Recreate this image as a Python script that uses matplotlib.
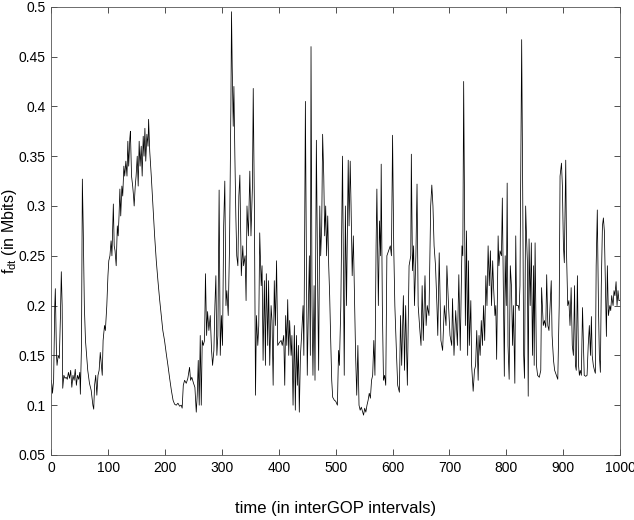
import numpy as np
import matplotlib
matplotlib.use("Agg")
import matplotlib.pyplot as plt

# time positions (interGOP intervals) and f_dt values (Mbits)
t = [0, 1, 2, 4, 6, 7, 9, 10, 12, 14, 16, 17.5, 19, 20, 22, 24, 26, 28, 30, 32,
     34, 36, 38, 40, 42, 44, 46, 48, 50, 51, 53, 54.5, 56, 58, 60, 62, 64, 67, 70, 73,
     74.5, 76, 78, 80, 82, 84, 86, 88, 89.5, 91, 93.5, 95, 97.5, 99.5, 101, 103, 105, 106.5, 109, 110.5,
     112, 114, 116, 117.5, 119, 120.5, 122, 124, 125.5, 127.5, 129, 131, 133, 134.5, 136, 138, 139, 141, 143, 144.5,
     145.6, 147.5, 149, 151, 152.7, 154.4, 156, 158, 159.7, 161.5, 163, 164.5, 166, 168, 170, 171, 173, 175.7, 178.7, 181.6,
     184.5, 187.4, 190.4, 193.3, 196, 199, 202, 205, 208, 211, 214, 216.7, 219.6, 222.6, 225.5, 228.4, 230, 232, 234.3, 237.2,
     240, 243, 244.8, 247, 250, 252.4, 254.8, 256.5, 258.3, 260, 261.8, 263.6, 265.3, 267, 269.4, 271, 273, 274.7, 277, 279.4,
     281.7, 283.5, 285.8, 287.6, 289.3, 291, 292.8, 295, 297, 299, 301, 303, 305, 307, 308.6, 311, 313.3, 315.7, 316.8, 318,
     319.8, 321, 322.7, 324.4, 326, 328, 329.7, 331.5, 334, 336.6, 338, 340.7, 342.4, 344, 346.5, 349, 351, 353.6, 355, 357,
     359, 360.6, 363, 364.7, 366.4, 369, 370.5, 372.3, 374.6, 376.4, 378, 380.5, 382, 384, 386.4, 388, 390, 392, 394, 396,
     398, 401, 404, 406, 408.6, 410.4, 412, 414, 415.6, 417.4, 419, 421.5, 423, 425, 427.3, 429, 431, 432.6, 434.4, 436,
     438, 440, 442.6, 444, 445.5, 446.7, 448.4, 450, 452, 453.7, 455.4, 456.6, 458.4, 460, 462, 463.6, 466, 467, 468.3, 470,
     472, 473.6, 475.4, 477, 479, 480.6, 482.4, 484, 486, 487.7, 489.4, 491, 493, 494.7, 497.6, 500, 503, 505, 506.5, 509,
     512, 513.5, 515, 517, 519, 522, 523.5, 525.5, 527, 529, 531, 533, 535, 537, 539, 541, 543, 545, 547, 549,
     551, 553, 555, 557, 559, 561, 563, 565, 567, 569, 571, 572.4, 575, 577, 579, 580, 582, 584, 586, 588,
     590, 593, 596, 598, 600, 602, 604, 607, 609, 612, 614, 616, 619, 621, 623, 626, 629, 632, 633, 635,
     637, 638.5, 641, 643, 645, 648, 650, 652, 654, 657, 659, 661, 664, 667, 669, 671, 673, 675.5, 678, 679.5,
     682, 685, 688, 691, 694, 695.5, 698.4, 701, 704, 705.4, 708, 711, 714, 716.5, 719, 722, 723.5, 725, 726.5, 728,
     730, 732, 733.5, 735, 737.6, 739, 741.7, 744, 746, 748, 750.5, 752, 754, 756, 758, 760, 762, 764, 766, 768,
     770, 772, 774, 776, 777.5, 780, 781.5, 783, 785.6, 787, 789, 791.5, 793, 795, 796.5, 798, 800, 801.5, 803, 805,
     807, 809, 811, 812.5, 815, 816.6, 818, 821, 822.5, 824, 826, 827, 829, 830.5, 832, 834, 835.5, 837, 838.5, 840,
     842, 844, 846, 848, 849, 850.6, 853, 855, 858, 860.6, 862, 865, 867, 869.4, 871, 873, 875, 877, 879, 880.5,
     883, 885, 888, 890.5, 893, 894.5, 897, 898.6, 900.4, 902, 904.5, 906, 908, 910, 912, 914, 916, 918, 920, 921.5,
     923, 925, 927, 928.5, 930, 932, 934, 937, 939.6, 942, 944, 946, 948, 949.6, 951, 953, 955, 956.6, 958, 960,
     962, 963.6, 965.4, 967, 969, 970.7, 972.4, 974, 976, 977.7, 979.5, 982, 983.6, 985.3, 987.7, 989.4, 991, 993, 994.7, 996.4,
     998, 1000]

f_dt = [0.125, 0.12, 0.112, 0.125, 0.2, 0.217, 0.15, 0.14, 0.15, 0.147, 0.19, 0.234, 0.2, 0.117, 0.13, 0.127, 0.128, 0.126, 0.133, 0.127,
        0.135, 0.118, 0.13, 0.125, 0.136, 0.12, 0.13, 0.126, 0.133, 0.111, 0.16, 0.327, 0.28, 0.2, 0.165, 0.15, 0.135, 0.122, 0.115, 0.1,
        0.096, 0.12, 0.13, 0.11, 0.13, 0.135, 0.153, 0.14, 0.13, 0.165, 0.18, 0.175, 0.2, 0.23, 0.245, 0.25, 0.265, 0.25, 0.302, 0.26,
        0.255, 0.24, 0.28, 0.27, 0.29, 0.317, 0.29, 0.32, 0.31, 0.34, 0.33, 0.345, 0.33, 0.365, 0.34, 0.368, 0.375, 0.33, 0.32, 0.31,
        0.3, 0.32, 0.33, 0.35, 0.32, 0.365, 0.34, 0.36, 0.33, 0.37, 0.35, 0.378, 0.345, 0.372, 0.36, 0.387, 0.355, 0.33, 0.3, 0.27,
        0.245, 0.225, 0.206, 0.19, 0.175, 0.165, 0.152, 0.14, 0.127, 0.115, 0.105, 0.101, 0.1, 0.102, 0.099, 0.1, 0.097, 0.12, 0.125, 0.122,
        0.127, 0.138, 0.125, 0.128, 0.122, 0.118, 0.093, 0.11, 0.145, 0.1, 0.17, 0.1, 0.165, 0.16, 0.165, 0.232, 0.17, 0.194, 0.175, 0.19,
        0.155, 0.14, 0.155, 0.2, 0.23, 0.15, 0.17, 0.316, 0.15, 0.19, 0.16, 0.28, 0.325, 0.2, 0.215, 0.19, 0.26, 0.4, 0.495, 0.44,
        0.38, 0.42, 0.35, 0.29, 0.25, 0.24, 0.31, 0.331, 0.23, 0.26, 0.24, 0.25, 0.205, 0.3, 0.27, 0.335, 0.27, 0.32, 0.418, 0.3,
        0.11, 0.19, 0.16, 0.18, 0.273, 0.22, 0.24, 0.145, 0.225, 0.14, 0.232, 0.16, 0.225, 0.14, 0.2, 0.185, 0.12, 0.225, 0.18, 0.245,
        0.16, 0.163, 0.165, 0.16, 0.17, 0.12, 0.19, 0.16, 0.206, 0.15, 0.185, 0.15, 0.17, 0.1, 0.18, 0.095, 0.17, 0.12, 0.16, 0.093,
        0.15, 0.17, 0.2, 0.15, 0.28, 0.405, 0.25, 0.13, 0.2, 0.25, 0.15, 0.46, 0.2, 0.13, 0.22, 0.125, 0.366, 0.3, 0.22, 0.135,
        0.3, 0.25, 0.28, 0.372, 0.33, 0.27, 0.3, 0.25, 0.29, 0.24, 0.21, 0.17, 0.125, 0.108, 0.105, 0.104, 0.1, 0.155, 0.14, 0.2,
        0.35, 0.24, 0.13, 0.3, 0.2, 0.346, 0.28, 0.345, 0.3, 0.23, 0.27, 0.21, 0.15, 0.11, 0.16, 0.1, 0.095, 0.098, 0.094, 0.09,
        0.097, 0.093, 0.1, 0.105, 0.112, 0.107, 0.125, 0.13, 0.165, 0.13, 0.26, 0.317, 0.2, 0.285, 0.25, 0.342, 0.2, 0.125, 0.13, 0.12,
        0.25, 0.255, 0.26, 0.25, 0.371, 0.26, 0.2, 0.15, 0.12, 0.113, 0.19, 0.14, 0.21, 0.135, 0.2, 0.12, 0.24, 0.25, 0.352, 0.235,
        0.26, 0.2, 0.25, 0.322, 0.2, 0.175, 0.16, 0.22, 0.165, 0.23, 0.18, 0.2, 0.19, 0.3, 0.321, 0.3, 0.26, 0.24, 0.2, 0.17,
        0.253, 0.165, 0.155, 0.2, 0.18, 0.24, 0.2, 0.17, 0.16, 0.207, 0.15, 0.195, 0.16, 0.231, 0.155, 0.26, 0.25, 0.425, 0.3, 0.18,
        0.275, 0.15, 0.245, 0.16, 0.205, 0.14, 0.114, 0.135, 0.14, 0.175, 0.125, 0.17, 0.15, 0.185, 0.16, 0.2, 0.165, 0.23, 0.2, 0.26,
        0.22, 0.255, 0.2, 0.245, 0.22, 0.19, 0.2, 0.146, 0.27, 0.24, 0.255, 0.25, 0.308, 0.2, 0.129, 0.25, 0.2, 0.323, 0.16, 0.126,
        0.24, 0.22, 0.16, 0.2, 0.122, 0.27, 0.2, 0.2, 0.195, 0.22, 0.385, 0.467, 0.3, 0.15, 0.127, 0.3, 0.27, 0.245, 0.109, 0.267,
        0.2, 0.263, 0.15, 0.24, 0.14, 0.263, 0.14, 0.13, 0.128, 0.135, 0.218, 0.18, 0.185, 0.178, 0.231, 0.18, 0.175, 0.2, 0.225, 0.17,
        0.145, 0.135, 0.13, 0.126, 0.2, 0.33, 0.343, 0.32, 0.26, 0.243, 0.346, 0.25, 0.2, 0.205, 0.18, 0.218, 0.16, 0.15, 0.22, 0.14,
        0.135, 0.23, 0.14, 0.13, 0.135, 0.13, 0.198, 0.13, 0.129, 0.13, 0.16, 0.18, 0.15, 0.189, 0.15, 0.14, 0.135, 0.132, 0.24, 0.296,
        0.2, 0.15, 0.133, 0.22, 0.28, 0.288, 0.275, 0.23, 0.169, 0.24, 0.19, 0.2, 0.195, 0.21, 0.2, 0.215, 0.21, 0.224, 0.2, 0.215,
        0.205, 0.205]

x_ticks = [0, 100, 200, 300, 400, 500, 600, 700, 800, 900, 1000]
y_ticks = [0.05, 0.1, 0.15, 0.2, 0.25, 0.3, 0.35, 0.4, 0.45, 0.5]
y_tick_labels = ["0.05", "0.1", "0.15", "0.2", "0.25", "0.3", "0.35", "0.4", "0.45", "0.5"]

plt.rcParams['font.family'] = ['Liberation Sans', 'DejaVu Sans']
plt.rcParams['mathtext.default'] = 'regular'

fig = plt.figure(figsize=(6.34, 5.2), dpi=100)
ax = fig.add_axes([0.081, 0.125, 0.897, 0.862])

ax.plot(t, f_dt, color='black', linewidth=0.55)

ax.set_xlim(0, 1000)
ax.set_ylim(0.05, 0.5)
ax.set_xticks(x_ticks)
ax.set_yticks(y_ticks)
ax.set_yticklabels(y_tick_labels)

# matlab style box, ticks inside on all sides
ax.tick_params(direction='in', top=True, right=True, length=4, width=0.6,
               labelsize=10, colors='#333333', labelcolor='black', pad=4)
for s in ax.spines.values():
    s.set_linewidth(0.6)
    s.set_color('#555555')

ax.set_xlabel('time (in interGOP intervals)', fontsize=12, labelpad=19)
ax.set_ylabel(r'f$_{dt}$ (in Mbits)', fontsize=11.5, labelpad=0)

fig.savefig('out.png', dpi=100)
